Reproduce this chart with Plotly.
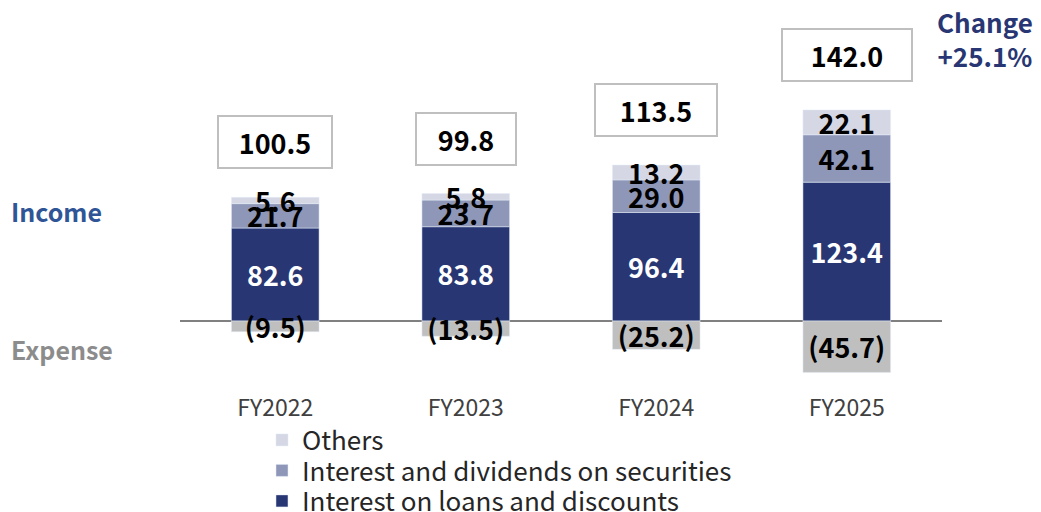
import plotly.graph_objects as go

categories = ["FY2022", "FY2023", "FY2024", "FY2025"]
loans = [82.6, 83.8, 96.4, 123.4]
securities = [21.7, 23.7, 29.0, 42.1]
others = [5.6, 5.8, 13.2, 22.1]
expense = [9.5, 13.5, 25.2, 45.7]
net_total = [100.5, 99.8, 113.5, 142.0]
change_text = "Change<br>+25.1%"

FONT = "Noto Sans CJK JP"
NAVY = "#283673"
MID = "#8E97B8"
LIGHT = "#D5D7E5"
GRAY = "#BFBFBF"
LBL = 27


def lbl_font(color):
    return dict(color=color, size=LBL, family=FONT, weight="bold")


fig = go.Figure()
fig.add_trace(go.Bar(x=categories, y=loans, name="Interest on loans and discounts",
                     marker_color=NAVY, text=[f"{v:.1f}" for v in loans], legend="legend3",
                     textposition="inside", insidetextanchor="middle", textangle=0,
                     textfont=lbl_font("white")))
fig.add_trace(go.Bar(x=categories, y=securities, name="Interest and dividends on securities",
                     marker_color=MID, text=[f"{v:.1f}" for v in securities], legend="legend2",
                     textposition="inside", insidetextanchor="middle", textangle=0,
                     textfont=lbl_font("black")))
fig.add_trace(go.Bar(x=categories, y=others, name="Others",
                     marker_color=LIGHT, text=[f"{v:.1f}" for v in others], legend="legend",
                     textposition="inside", insidetextanchor="middle", textangle=0,
                     textfont=lbl_font("black")))
fig.add_trace(go.Bar(x=categories, y=[-v for v in expense], name="Expense",
                     marker_color=GRAY, showlegend=False,
                     text=[f"({v:.1f})" for v in expense],
                     textposition="inside", insidetextanchor="middle", textangle=0,
                     textfont=lbl_font("black")))

income_tot = [a + b + c for a, b, c in zip(loans, securities, others)]
box_widths = [112, 98, 120, 128]
for cat, tot, net, w in zip(categories, income_tot, net_total, box_widths):
    fig.add_annotation(x=cat, y=tot, yshift=55, text=f"{net:.1f}", showarrow=False,
                       font=dict(size=27, family=FONT, color="black", weight="bold"),
                       bgcolor="white", bordercolor="#BFBFBF", borderwidth=2,
                       width=w, height=50, borderpad=0, xanchor="center", yanchor="middle")

fig.add_annotation(xref="paper", x=-0.2244, y=97.8, text="<b>Income</b>", showarrow=False,
                   xanchor="left", font=dict(size=25, family=FONT, color="#2F5597"))
fig.add_annotation(xref="paper", x=-0.2244, y=-24.9, text="<b>Expense</b>", showarrow=False,
                   xanchor="left", font=dict(size=25, family=FONT, color="#8C8C8C"))
fig.add_annotation(xref="paper", x=1.0565, y=251, text=f"<b>{change_text}</b>", showarrow=False,
                   xanchor="center", align="center",
                   font=dict(size=26, family=FONT, color=NAVY))

leg_common = dict(x=0.1076, xanchor="left", yanchor="middle",
                  font=dict(size=26, family=FONT, color="#262626"),
                  bgcolor="rgba(0,0,0,0)", borderwidth=0)
fig.update_layout(
    barmode="relative", bargap=0.54,
    width=1041, height=512,
    margin=dict(l=180, r=99, t=10, b=120, autoexpand=False),
    plot_bgcolor="white", paper_bgcolor="white",
    uniformtext=dict(mode="show", minsize=LBL),
    font=dict(family=FONT, color="#262626"),
    legend=dict(y=-0.1257, **leg_common),
    legend2=dict(y=-0.2055, **leg_common),
    legend3=dict(y=-0.2853, **leg_common),
    xaxis=dict(showline=False, showgrid=False, ticks="",
               tickfont=dict(size=23, family=FONT, color="#404040")),
    yaxis=dict(range=[-63.1, 276.4], showticklabels=False, showgrid=False,
               zeroline=True, zerolinecolor="#808080", zerolinewidth=2, ticks=""),
)
fig.write_html("out.html", config={"displayModeBar": False},
               post_script="document.body.style.margin='0';")
